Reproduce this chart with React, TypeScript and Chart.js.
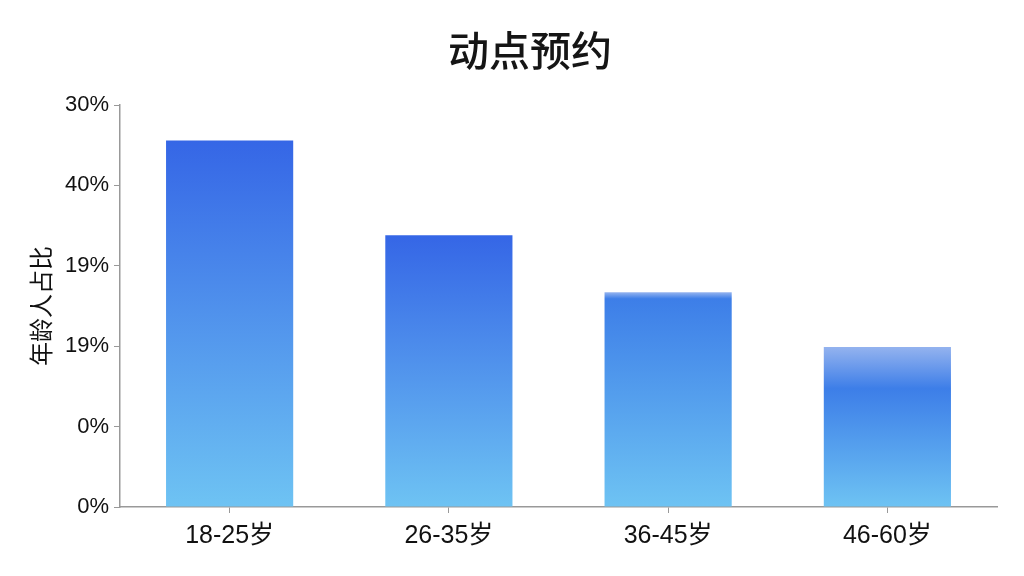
import React, { useEffect, useRef } from "react";
import { Chart, registerables } from "chart.js";

Chart.register(...registerables);

const chartTitle = "动点预约";
const yAxisTitle = "年龄人占比";
const categories = ["18-25岁", "26-35岁", "36-45岁", "46-60岁"];
const shares = [45.6, 33.8, 26.7, 19.9];
const yTickLabels = ["0%", "0%", "19%", "19%", "40%", "30%"];
// light band at the top of some bars (fraction of bar height)
const topFade = [0, 0, 0.03, 0.26];

const FONT = "'Liberation Sans', Arial, 'Noto Sans CJK SC', sans-serif";
const CJK = "'Noto Sans CJK SC', sans-serif";

const titlePlugin = {
  id: "centeredTitle",
  afterDraw(chart: any) {
    const { ctx } = chart;
    ctx.save();
    ctx.font = `500 41px ${CJK}`;
    ctx.fillStyle = "#151515";
    ctx.textAlign = "center";
    ctx.textBaseline = "middle";
    ctx.fillText(chartTitle, 530, 50);
    ctx.restore();
  },
};

export default function App() {
  const ref = useRef<HTMLCanvasElement>(null);
  useEffect(() => {
    if (!ref.current) return;
    const chart = new Chart(ref.current, {
      type: "bar",
      data: {
        labels: categories,
        datasets: [
          {
            data: shares,
            borderWidth: 0,
            categoryPercentage: 1,
            barPercentage: 0.58,
            backgroundColor: (c: any) => {
              const ch = c.chart;
              const ys = ch.scales?.y;
              if (!ys || c.dataIndex === undefined) return "#4a86ea";
              const v = c.dataset.data[c.dataIndex];
              const top = ys.getPixelForValue(v);
              const bottom = ys.getPixelForValue(0);
              if (!isFinite(top) || !isFinite(bottom) || top === bottom) return "#4a86ea";
              const g = ch.ctx.createLinearGradient(0, top, 0, bottom);
              const f = topFade[c.dataIndex] || 0;
              if (f > 0) {
                g.addColorStop(0, "#94b3ef");
                g.addColorStop(f, "#3d7ee8");
              } else {
                g.addColorStop(0, "#3566e6");
              }
              g.addColorStop(1, "#6ec3f3");
              return g;
            },
          },
        ],
      },
      options: {
        animation: false,
        responsive: false,
        maintainAspectRatio: false,
        layout: { padding: { top: 105, right: 27, left: 0, bottom: 0 } },
        plugins: {
          legend: { display: false },
          title: { display: false },
          tooltip: { enabled: false },
        },
        scales: {
          x: {
            grid: {
              display: true,
              offset: false,
              drawOnChartArea: false,
              drawTicks: true,
              tickLength: 6,
              color: "#999",
            },
            border: { display: true, color: "#999", width: 1.5 },
            ticks: {
              color: "#111",
              font: { family: FONT, size: 25 },
              padding: 8,
            },
            afterFit: (s: any) => {
              s.height = 69;
            },
          },
          y: {
            min: 0,
            max: 50,
            grid: {
              display: true,
              drawOnChartArea: false,
              drawTicks: true,
              tickLength: 6,
              color: "#999",
            },
            border: { display: true, color: "#999", width: 1.5 },
            ticks: {
              stepSize: 10,
              color: "#111",
              font: { family: FONT, size: 22 },
              padding: 5,
              callback: (_v: any, i: number) => yTickLabels[i],
            },
            title: {
              display: true,
              text: yAxisTitle,
              color: "#111",
              font: { family: CJK, size: 24 },
              padding: { top: 26, bottom: 0 },
            },
            afterFit: (s: any) => {
              s.width = 120;
            },
          },
        },
      },
      plugins: [titlePlugin],
    } as any);
    return () => chart.destroy();
  }, []);
  return (
    <div style={{ position: "fixed", left: 0, top: 0, width: 1024, height: 576, background: "#fff" }}>
      <canvas ref={ref} width={1024} height={576} style={{ width: 1024, height: 576 }} />
    </div>
  );
}
